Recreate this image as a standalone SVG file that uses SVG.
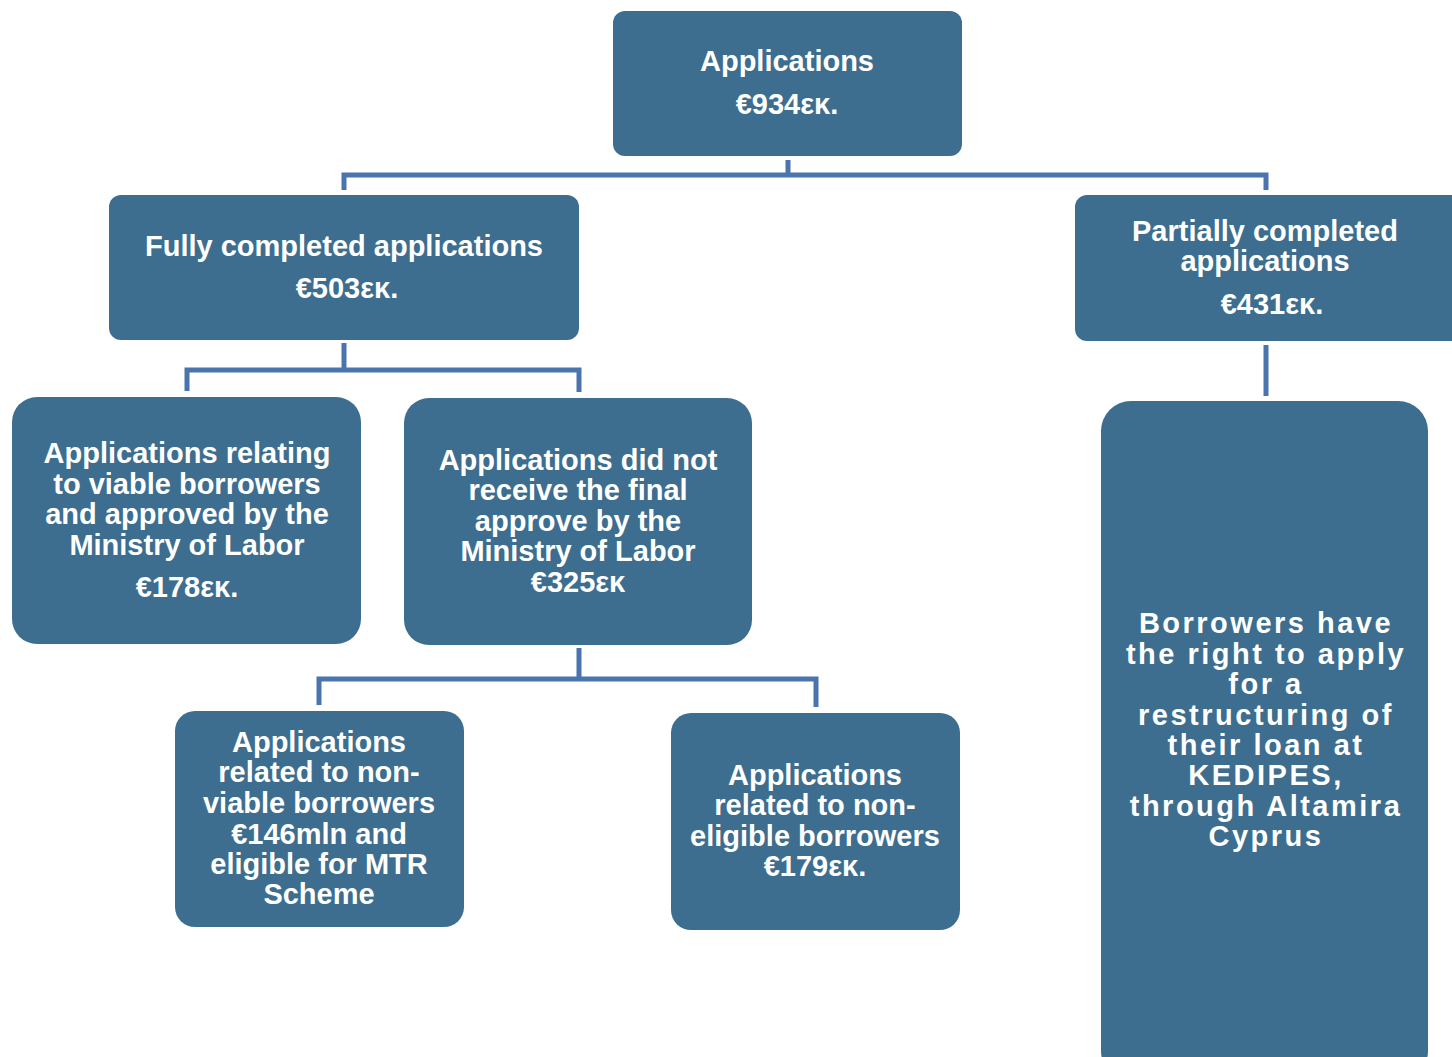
<svg xmlns="http://www.w3.org/2000/svg" width="1452" height="1057" viewBox="0 0 1452 1057">
<style>
.n{fill:#3d6e8f;}
.t{font-family:"Liberation Sans",Arial,sans-serif;font-weight:bold;font-size:29px;fill:#ffffff;text-anchor:middle;}
.s{letter-spacing:2.5px;}
.c{fill:none;stroke:#4a74ae;stroke-width:5;}
</style>
<rect width="1452" height="1057" fill="#ffffff"/>
<g id="connectors">
<path class="c" d="M788 160V175M344 190V175H1266V190"/>
<path class="c" d="M1266 345V396"/>
<path class="c" d="M344 343V370M187 391V370H579V392"/>
<path class="c" d="M579 648V679M319 705V679H816V707"/>
</g>
<g id="n-applications">
<rect class="n" x="613" y="11" width="349" height="145" rx="12"/>
<text class="t" x="787" y="71">Applications</text>
<text class="t" x="787" y="114">€934εκ.</text>
</g>
<g id="n-fully">
<rect class="n" x="109" y="195" width="470" height="145" rx="12"/>
<text class="t" x="344" y="256">Fully completed applications</text>
<text class="t" x="347" y="298">€503εκ.</text>
</g>
<g id="n-partial">
<rect class="n" x="1075" y="195" width="390" height="146" rx="12"/>
<text class="t" x="1265" y="241">Partially completed</text>
<text class="t" x="1265" y="271">applications</text>
<text class="t" x="1272" y="314">€431εκ.</text>
</g>
<g id="n-viable">
<rect class="n" x="12" y="397" width="349" height="247" rx="25"/>
<text class="t" x="187" y="463">Applications relating</text>
<text class="t" x="187" y="494">to viable borrowers</text>
<text class="t" x="187" y="524">and approved by the</text>
<text class="t" x="187" y="555">Ministry of Labor</text>
<text class="t" x="187" y="597">€178εκ.</text>
</g>
<g id="n-notapproved">
<rect class="n" x="404" y="398" width="348" height="247" rx="25"/>
<text class="t" x="578" y="470">Applications did not</text>
<text class="t" x="578" y="500">receive the final</text>
<text class="t" x="578" y="531">approve by the</text>
<text class="t" x="578" y="561">Ministry of Labor</text>
<text class="t" x="578" y="592">€325εκ</text>
</g>
<g id="n-nonviable">
<rect class="n" x="175" y="711" width="289" height="216" rx="20"/>
<text class="t" x="319" y="752">Applications</text>
<text class="t" x="319" y="782">related to non-</text>
<text class="t" x="319" y="813">viable borrowers</text>
<text class="t" x="319" y="844">€146mln and</text>
<text class="t" x="319" y="874">eligible for MTR</text>
<text class="t" x="319" y="904">Scheme</text>
</g>
<g id="n-noneligible">
<rect class="n" x="671" y="713" width="289" height="217" rx="20"/>
<text class="t" x="815" y="785">Applications</text>
<text class="t" x="815" y="815">related to non-</text>
<text class="t" x="815" y="846">eligible borrowers</text>
<text class="t" x="815" y="876">€179εκ.</text>
</g>
<g id="n-borrowers">
<rect class="n" x="1101" y="401" width="327" height="680" rx="30"/>
<g class="t s">
<text x="1266" y="633">Borrowers have</text>
<text x="1266" y="664">the right to apply</text>
<text x="1266" y="694">for a</text>
<text x="1266" y="725">restructuring of</text>
<text x="1266" y="755">their loan at</text>
<text x="1266" y="785">KEDIPES,</text>
<text x="1266" y="816">through Altamira</text>
<text x="1266" y="846">Cyprus</text>
</g>
</g>
</svg>
